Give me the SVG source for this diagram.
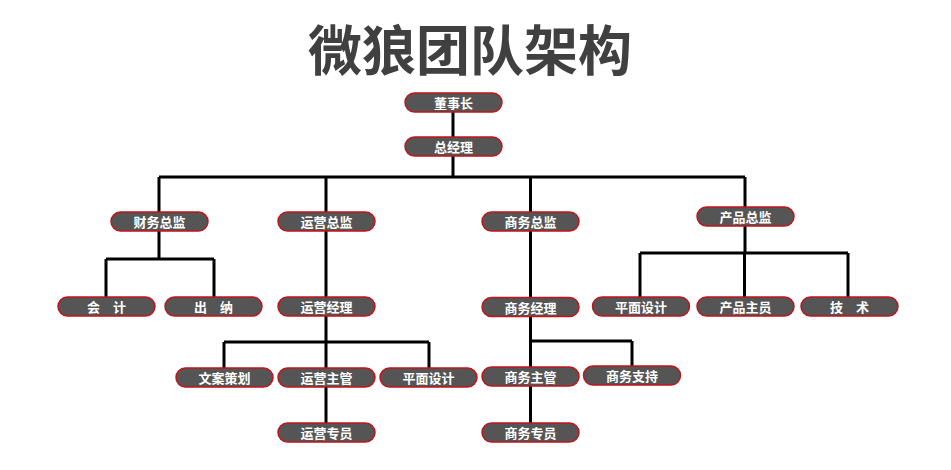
<svg xmlns="http://www.w3.org/2000/svg" width="951" height="470" viewBox="0 0 951 470">
<style>
.n rect{fill:#555555;stroke:#c0151b;stroke-width:1.5}
.n text{fill:#ffffff;font-family:"Noto Sans CJK SC","Noto Sans",sans-serif;font-weight:bold;font-size:13px;text-anchor:middle;dominant-baseline:central}
.c{fill:none;stroke:#000;stroke-width:3}
.t{fill:#404040;font-family:"Noto Sans CJK SC","Noto Sans",sans-serif;font-weight:bold;font-size:54px;text-anchor:middle;dominant-baseline:central}
</style>
<rect width="951" height="470" fill="#fff"/>
<text class="t" x="470" y="47">微狼团队架构</text>
<g id="connectors">
<path class="c" d="M453 112V137M453 156V177M159 177H745M159 177V212M326 177V212M530.5 177V212M745 177V207"/>
<path class="c" d="M159 231V259M106 259H214M106 259V297M214 259V297"/>
<path class="c" d="M326 231V297M326 316V368M224 342H429M224 342V368M429 342V368M326 387V423"/>
<path class="c" d="M530.5 231V297.5M530.5 316.5V367M530.5 341H632M632 341V366M530.5 385V423"/>
<path class="c" d="M745 226V253M640 253H848M640 253V297M744.5 253V297M848 253V297"/>
</g>
<g id="n-dsz" class="n"><rect x="405" y="93" width="97" height="19" rx="9.5"/><text x="453.5" y="102.5">董事长</text></g>
<g id="n-zjl" class="n"><rect x="405" y="137" width="97" height="19" rx="9.5"/><text x="453.5" y="146.5">总经理</text></g>
<g id="n-cwzj" class="n"><rect x="111" y="212" width="97" height="19" rx="9.5"/><text x="159.5" y="221.5">财务总监</text></g>
<g id="n-yyzj" class="n"><rect x="278" y="212" width="97" height="19" rx="9.5"/><text x="326.5" y="221.5">运营总监</text></g>
<g id="n-swzj" class="n"><rect x="482" y="212" width="97" height="19" rx="9.5"/><text x="530.5" y="221.5">商务总监</text></g>
<g id="n-cpzj" class="n"><rect x="697" y="207" width="97" height="19" rx="9.5"/><text x="745.5" y="216.5">产品总监</text></g>
<g id="n-kj" class="n"><rect x="58" y="297" width="97" height="19" rx="9.5"/><text x="106.5" y="306.5">会　计</text></g>
<g id="n-cn" class="n"><rect x="165" y="297" width="97" height="19" rx="9.5"/><text x="213.5" y="306.5">出　纳</text></g>
<g id="n-yyjl" class="n"><rect x="278" y="297" width="97" height="19" rx="9.5"/><text x="326.5" y="306.5">运营经理</text></g>
<g id="n-swjl" class="n"><rect x="482" y="297.5" width="97" height="19" rx="9.5"/><text x="530.5" y="307">商务经理</text></g>
<g id="n-pmsj2" class="n"><rect x="592.5" y="297" width="97" height="19" rx="9.5"/><text x="641" y="306.5">平面设计</text></g>
<g id="n-cpzy" class="n"><rect x="697" y="297" width="97" height="19" rx="9.5"/><text x="745.5" y="306.5">产品主员</text></g>
<g id="n-js" class="n"><rect x="801" y="297" width="97" height="19" rx="9.5"/><text x="849.5" y="306.5">技　术</text></g>
<g id="n-wacx" class="n"><rect x="176" y="368" width="97" height="19" rx="9.5"/><text x="224.5" y="377.5">文案策划</text></g>
<g id="n-yyzg" class="n"><rect x="278" y="368" width="97" height="19" rx="9.5"/><text x="326.5" y="377.5">运营主管</text></g>
<g id="n-pmsj1" class="n"><rect x="380" y="368" width="97" height="19" rx="9.5"/><text x="428.5" y="377.5">平面设计</text></g>
<g id="n-swzg" class="n"><rect x="482" y="367" width="97" height="19" rx="9.5"/><text x="530.5" y="376.5">商务主管</text></g>
<g id="n-swzc" class="n"><rect x="583.5" y="366" width="97" height="19" rx="9.5"/><text x="632" y="375.5">商务支持</text></g>
<g id="n-yyzy" class="n"><rect x="278" y="423" width="97" height="19" rx="9.5"/><text x="326.5" y="432.5">运营专员</text></g>
<g id="n-swzy" class="n"><rect x="482" y="423" width="97" height="19" rx="9.5"/><text x="530.5" y="432.5">商务专员</text></g>
</svg>
